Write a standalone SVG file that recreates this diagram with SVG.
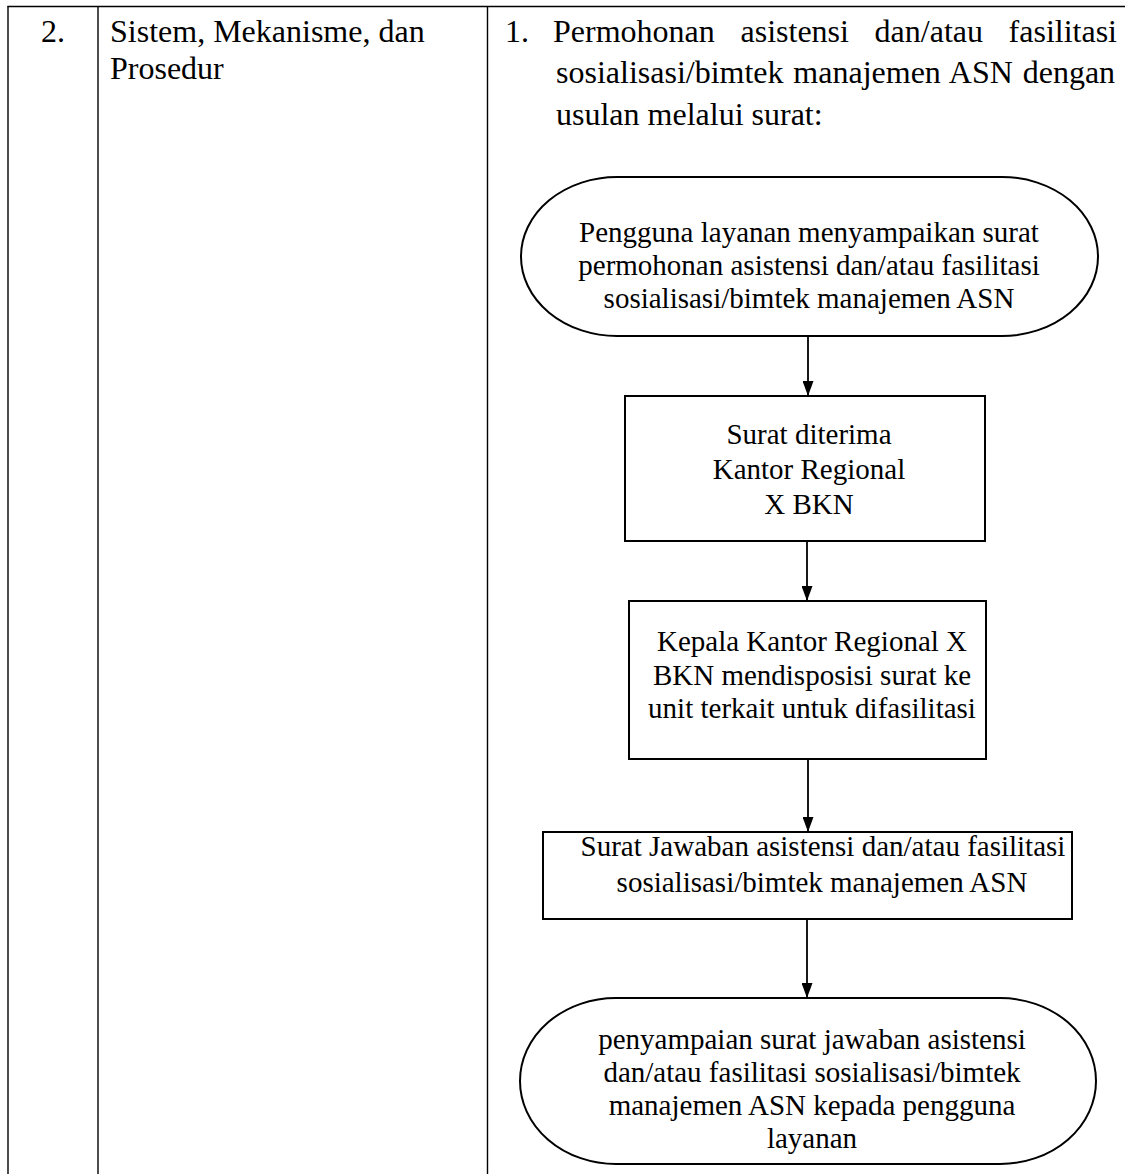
<svg xmlns="http://www.w3.org/2000/svg" width="1125" height="1174" viewBox="0 0 1125 1174">
<style>
.tl{stroke:#000;stroke-width:1.4;fill:none}
.sh{stroke:#000;stroke-width:2;fill:#fff}
.cn{stroke:#000;stroke-width:1.8;fill:none}
.t32{font-family:"Liberation Serif","Times New Roman",serif;font-size:32px;fill:#000}
.t29{font-family:"Liberation Serif","Times New Roman",serif;font-size:29px;fill:#000;text-anchor:middle}
</style>
<defs>
<marker id="ah" markerWidth="15" markerHeight="11" refX="15" refY="5.5" orient="auto" markerUnits="userSpaceOnUse">
<path d="M0,0 L15,5.5 L0,11 Z" fill="#000"/>
</marker>
</defs>
<rect width="1125" height="1174" fill="#fff"/>
<g id="table">
<line class="tl" x1="7.5" y1="6.5" x2="1125" y2="6.5"/>
<line class="tl" x1="8" y1="6" x2="8" y2="1174"/>
<line class="tl" x1="98" y1="6" x2="98" y2="1174"/>
<line class="tl" x1="487.5" y1="6" x2="487.5" y2="1174"/>
<text class="t32" x="41" y="42">2.</text>
<text class="t32" x="110" y="42">Sistem, Mekanisme, dan</text>
<text class="t32" x="110" y="79">Prosedur</text>
<text class="t32" x="505" y="42">1.</text>
<text class="t32" x="553" y="42">Permohonan</text>
<text class="t32" x="740.5" y="42">asistensi</text>
<text class="t32" x="874.6" y="42">dan/atau</text>
<text class="t32" x="1117" y="42" text-anchor="end">fasilitasi</text>
<text class="t32" x="556" y="83" word-spacing="1.8">sosialisasi/bimtek manajemen ASN dengan</text>
<text class="t32" x="556" y="125">usulan melalui surat:</text>
</g>
<g id="connectors">
<line class="cn" x1="808" y1="336" x2="808" y2="396" marker-end="url(#ah)"/>
<line class="cn" x1="807" y1="541" x2="807" y2="601" marker-end="url(#ah)"/>
<line class="cn" x1="808" y1="759" x2="808" y2="832" marker-end="url(#ah)"/>
<line class="cn" x1="807" y1="919" x2="807" y2="998" marker-end="url(#ah)"/>
</g>
<g id="n1">
<path class="sh" d="M617,177 H1002 A96,79.5 0 0 1 1002,336 H617 A96,79.5 0 0 1 617,177 Z"/>
<text class="t29" x="809" y="242">Pengguna layanan menyampaikan surat</text>
<text class="t29" x="809" y="275">permohonan asistensi dan/atau fasilitasi</text>
<text class="t29" x="809" y="308">sosialisasi/bimtek manajemen ASN</text>
</g>
<g id="n2">
<rect class="sh" x="625" y="396" width="360" height="145"/>
<text class="t29" x="809" y="444">Surat diterima</text>
<text class="t29" x="809" y="479">Kantor Regional</text>
<text class="t29" x="809" y="514">X BKN</text>
</g>
<g id="n3">
<rect class="sh" x="629" y="601" width="357" height="158"/>
<text class="t29" x="812" y="651">Kepala Kantor Regional X</text>
<text class="t29" x="812" y="685">BKN mendisposisi surat ke</text>
<text class="t29" x="812" y="718">unit terkait untuk difasilitasi</text>
</g>
<g id="n4">
<rect class="sh" x="543" y="832" width="529" height="87"/>
<text class="t29" x="823" y="856">Surat Jawaban asistensi dan/atau fasilitasi</text>
<text class="t29" x="822" y="892">sosialisasi/bimtek manajemen ASN</text>
</g>
<g id="n5">
<path class="sh" d="M616,998 H1000 A96,83 0 0 1 1000,1164 H616 A96,83 0 0 1 616,998 Z"/>
<text class="t29" x="812" y="1049">penyampaian surat jawaban asistensi</text>
<text class="t29" x="812" y="1082">dan/atau fasilitasi sosialisasi/bimtek</text>
<text class="t29" x="812" y="1115">manajemen ASN kepada pengguna</text>
<text class="t29" x="812" y="1148">layanan</text>
</g>
</svg>
